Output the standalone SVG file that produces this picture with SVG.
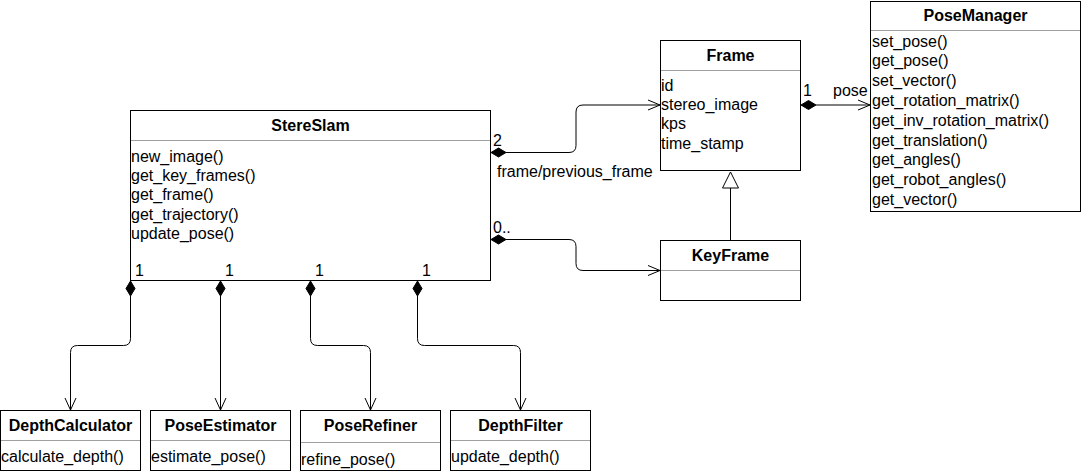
<svg xmlns="http://www.w3.org/2000/svg" width="1081" height="471" viewBox="0 0 1081 471">
<style>
text{font-family:"Liberation Sans",Arial,Helvetica,sans-serif;font-size:16px;fill:#000}
.t{font-weight:bold;text-anchor:middle}
.box{fill:#fff;stroke:#000;stroke-width:1}
.sep{stroke:#a0a0a0;stroke-width:1;fill:none}
.ln{fill:none;stroke:#000;stroke-width:1}
.dia{fill:#000;stroke:#000;stroke-width:1}
.tri{fill:#fff;stroke:#000;stroke-width:1}
</style>
<rect width="1081" height="471" fill="#fff"/>
<g id="StereSlam">
  <rect class="box" x="130.5" y="110.5" width="360" height="170"/>
  <path class="sep" d="M131 140.5 H490"/>
  <text class="t" x="310.5" y="131">StereSlam</text>
  <text x="131" y="162">new_image()</text>
  <text x="131" y="181.2">get_key_frames()</text>
  <text x="131" y="200.4">get_frame()</text>
  <text x="131" y="219.6">get_trajectory()</text>
  <text x="131" y="238.8">update_pose()</text>
</g>
<g id="Frame">
  <rect class="box" x="660.5" y="40.5" width="140" height="130"/>
  <path class="sep" d="M661 70.5 H800"/>
  <text class="t" x="730.5" y="61">Frame</text>
  <text x="661" y="91">id</text>
  <text x="661" y="110.2">stereo_image</text>
  <text x="661" y="129.4">kps</text>
  <text x="661" y="148.6">time_stamp</text>
</g>
<g id="KeyFrame">
  <rect class="box" x="660.5" y="240.5" width="140" height="60"/>
  <path class="sep" d="M661 270.5 H800"/>
  <text class="t" x="730.5" y="261">KeyFrame</text>
</g>
<g id="PoseManager">
  <rect class="box" x="870.5" y="1.5" width="210" height="210"/>
  <path class="sep" d="M871 30.5 H1080"/>
  <text class="t" x="975.5" y="21">PoseManager</text>
  <text x="872" y="46.5">set_pose()</text>
  <text x="872" y="66.3">get_pose()</text>
  <text x="872" y="86.1">set_vector()</text>
  <text x="872" y="105.9">get_rotation_matrix()</text>
  <text x="872" y="125.7">get_inv_rotation_matrix()</text>
  <text x="872" y="145.5">get_translation()</text>
  <text x="872" y="165.3">get_angles()</text>
  <text x="872" y="185.1">get_robot_angles()</text>
  <text x="872" y="204.9">get_vector()</text>
</g>
<g id="DepthCalculator">
  <rect class="box" x="0.5" y="410.5" width="140" height="60"/>
  <path class="sep" d="M1 440.5 H140"/>
  <text class="t" x="70.5" y="431">DepthCalculator</text>
  <text x="1" y="462">calculate_depth()</text>
</g>
<g id="PoseEstimator">
  <rect class="box" x="150.5" y="410.5" width="140" height="60"/>
  <path class="sep" d="M151 440.5 H290"/>
  <text class="t" x="220.5" y="431">PoseEstimator</text>
  <text x="151" y="462">estimate_pose()</text>
</g>
<g id="PoseRefiner">
  <rect class="box" x="300.5" y="410.5" width="140" height="60"/>
  <path class="sep" d="M301 442.5 H440"/>
  <text class="t" x="370.5" y="431">PoseRefiner</text>
  <text x="301" y="465">refine_pose()</text>
</g>
<g id="DepthFilter">
  <rect class="box" x="450.5" y="410.5" width="140" height="60"/>
  <path class="sep" d="M451 440.5 H590"/>
  <text class="t" x="520.5" y="431">DepthFilter</text>
  <text x="451" y="462">update_depth()</text>
</g>
<g id="connectors">
  <!-- StereSlam -> Frame -->
  <path class="ln" d="M506 152.5 H569 Q576 152.5 576 145.5 V112 Q576 105 583 105 H660"/>
  <polygon class="dia" points="491,152.5 498.5,148 506,152.5 498.5,157"/>
  <path class="ln" d="M648 100 L660 105 L648 110"/>
  <!-- StereSlam -> KeyFrame -->
  <path class="ln" d="M506 239.5 H569 Q576 239.5 576 246.5 V263.5 Q576 270.5 583 270.5 H660"/>
  <polygon class="dia" points="491,239.5 498.5,235 506,239.5 498.5,244"/>
  <path class="ln" d="M648 265.5 L660 270.5 L648 275.5"/>
  <!-- Frame -> PoseManager -->
  <path class="ln" d="M816 105 H870"/>
  <polygon class="dia" points="801,105 808.5,100.5 816,105 808.5,109.5"/>
  <path class="ln" d="M858 100 L870 105 L858 110"/>
  <!-- KeyFrame -> Frame inheritance -->
  <path class="ln" d="M730.5 240 V188"/>
  <polygon class="tri" points="730.5,172 738.5,188 722.5,188"/>
  <!-- StereSlam -> DepthCalculator -->
  <polygon class="dia" points="130.5,281 135,288.5 130.5,296 126,288.5"/>
  <path class="ln" d="M130.5 296 V338.5 Q130.5 345.5 123.5 345.5 H77.5 Q70.5 345.5 70.5 352.5 V410"/>
  <path class="ln" d="M65 398 L70.5 410 L76 398"/>
  <!-- StereSlam -> PoseEstimator -->
  <polygon class="dia" points="220.5,281 225,288.5 220.5,296 216,288.5"/>
  <path class="ln" d="M220.5 296 V410"/>
  <path class="ln" d="M215 398 L220.5 410 L226 398"/>
  <!-- StereSlam -> PoseRefiner -->
  <polygon class="dia" points="310.5,281 315,288.5 310.5,296 306,288.5"/>
  <path class="ln" d="M310.5 296 V338.5 Q310.5 345.5 317.5 345.5 H363.5 Q370.5 345.5 370.5 352.5 V410"/>
  <path class="ln" d="M365 398 L370.5 410 L376 398"/>
  <!-- StereSlam -> DepthFilter -->
  <polygon class="dia" points="417.5,281 422,288.5 417.5,296 413,288.5"/>
  <path class="ln" d="M417.5 296 V338.5 Q417.5 345.5 424.5 345.5 H513.5 Q520.5 345.5 520.5 352.5 V410"/>
  <path class="ln" d="M515 398 L520.5 410 L526 398"/>
  <!-- labels -->
  <text x="493" y="146">2</text>
  <text x="497" y="177">frame/previous_frame</text>
  <text x="493" y="233">0..</text>
  <text x="803" y="96">1</text>
  <text x="833" y="96">pose</text>
  <text x="135" y="276">1</text>
  <text x="225" y="276">1</text>
  <text x="315" y="276">1</text>
  <text x="422" y="276">1</text>
</g>
</svg>
